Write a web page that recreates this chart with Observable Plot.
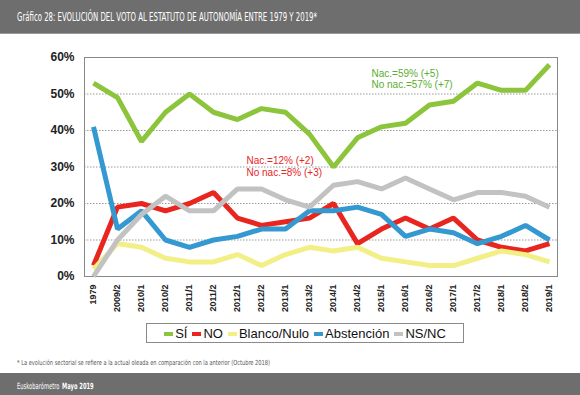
<!DOCTYPE html>
<html><head><meta charset="utf-8">
<script src="https://cdn.jsdelivr.net/npm/d3@7"></script>
<script src="https://cdn.jsdelivr.net/npm/@observablehq/plot@0.6"></script>
<style>
body{margin:0;background:#fff;}
#page{position:relative;width:580px;height:395px;overflow:hidden;font-family:"Liberation Sans",Arial,sans-serif;}
#header{position:absolute;left:0;top:0;width:580px;height:33px;background:#6e6e6e;border-bottom:1px solid #9a9a9a;}
#chart{position:absolute;left:0;top:34px;}
#legend{position:absolute;left:146px;top:323px;width:316px;height:18px;border:1px solid #8a8a8a;display:flex;align-items:center;justify-content:center;gap:5px;font-size:13px;color:#111;}
#legend .sw{display:inline-block;width:9px;height:4px;margin-right:2px;vertical-align:middle;}
#footnote{position:absolute;left:0;top:352px;}
#footer{position:absolute;left:0;top:373px;width:580px;height:22px;background:#6e6e6e;}
</style></head>
<body><div id="page">
<div id="header"><svg width="580" height="33"><text x="17" y="21" fill="#fff" font-family="DejaVu Sans Condensed, Liberation Sans Narrow, sans-serif" font-size="12" textLength="300" lengthAdjust="spacingAndGlyphs">Gráfico 28: EVOLUCIÓN DEL VOTO AL ESTATUTO DE AUTONOMÍA ENTRE 1979 Y 2019*</text></svg></div>
<div id="chart"></div>
<div id="legend"></div>
<div id="footnote"><svg width="580" height="18"><text x="17" y="13" fill="#555" font-family="DejaVu Sans Condensed, Liberation Sans Narrow, sans-serif" font-size="7" textLength="253" lengthAdjust="spacingAndGlyphs">* La evolución sectorial se refiere a la actual oleada en comparación con la anterior (Octubre 2018)</text></svg></div>
<div id="footer"><svg width="580" height="22"><g transform="translate(17,15.5) scale(0.68,1)" fill="#fff" font-family="DejaVu Sans Condensed, Liberation Sans Narrow, sans-serif" font-size="8.5"><text id="f1" x="0" y="0">Euskobarómetro</text><text id="f2" x="66" y="0" font-weight="bold">Mayo 2019</text></g></svg></div>
</div>
<script>
const periodos = ["1979","2009/2","2010/1","2010/2","2011/1","2011/2","2012/1","2012/2","2013/1","2013/2","2014/1","2014/2","2015/1","2016/1","2016/2","2017/1","2017/2","2018/1","2018/2","2019/1"];
const si        = [53,49,37,45,50,45,43,46,45,39,30,38,41,42,47,48,53,51,51,58];
const no        = [3,19,20,18,20,23,16,14,15,16,20,9,13,16,13,16,10,8,7,9];
const blanco    = [2,9,8,5,4,4,6,3,6,8,7,8,5,4,3,3,5,7,6,4];
const abstencion= [41,13,18,10,8,10,11,13,13,18,18,19,17,11,13,12,9,11,14,10];
const nsnc      = [0,10,17,22,18,18,24,24,21,19,25,26,24,27,24,21,23,23,22,19];
const seriesNames = ["SÍ","NO","Blanco/Nulo","Abstención","NS/NC"];
const seriesValues = [si,no,blanco,abstencion,nsnc];
const seriesColors = ["#8cc43c","#e8251f","#f2ef86","#3399d0","#c2c2c2"];
const yTicks = [0,10,20,30,40,50,60];
const notes = [
  {periodo:"2014/2", valor:57, texto:"Nac.=59% (+5)\nNo nac.=57% (+7)", serie:"SÍ"},
  {periodo:"2012/1", valor:33, texto:"Nac.=12% (+2)\nNo nac.=8% (+3)", serie:"NO"}
];

const data = seriesNames.flatMap((s,k)=>periodos.map((p,i)=>({serie:s, periodo:p, valor:seriesValues[k][i]})));

const chart = Plot.plot({
  width:580, height:290,
  marginTop:23, marginBottom:48, marginLeft:84, marginRight:23,
  style:{fontFamily:"Liberation Sans, Arial, sans-serif", color:"#222", background:"transparent"},
  x:{type:"point", domain:periodos, padding:0},
  y:{domain:[0,60]},
  color:{domain:seriesNames, range:seriesColors},
  marks:[
    Plot.gridY(yTicks.filter(d=>d>0 && d<60), {stroke:"#9a9a9a", strokeOpacity:1, strokeDasharray:"1.5,1.5"}),
    Plot.frame({stroke:"#888"}),
    Plot.axisY({ticks:yTicks, tickFormat:d=>d+"%", tickSize:0, tickPadding:10, fontSize:12, fontWeight:"bold", label:null}),
    Plot.axisX({tickRotate:-90, tickSize:0, tickPadding:8, fontSize:9, fontWeight:"bold", label:null}),
    Plot.lineY(data, {x:"periodo", y:"valor", z:"serie", stroke:"serie", strokeWidth:5, strokeLinejoin:"miter", strokeLinecap:"butt"}),
    Plot.text(notes.slice(0,1), {x:"periodo", y:"valor", text:"texto", fill:"#5aae2e", textAnchor:"start", lineAnchor:"top", dx:14, fontSize:10, lineHeight:1.15}),
    Plot.text(notes.slice(1), {x:"periodo", y:"valor", text:"texto", fill:"#e8251f", textAnchor:"start", lineAnchor:"top", dx:9, fontSize:10, lineHeight:1.15})
  ]
});
document.getElementById("chart").appendChild(chart);

const f1 = document.getElementById("f1");
document.getElementById("f2").setAttribute("x", f1.getComputedTextLength() + 4);

const legend = document.getElementById("legend");
seriesNames.forEach((s,k)=>{
  const item = document.createElement("span");
  item.innerHTML = `<span class="sw" style="background:${seriesColors[k]}"></span>${s}`;
  legend.appendChild(item);
});
</script>
</body></html>
